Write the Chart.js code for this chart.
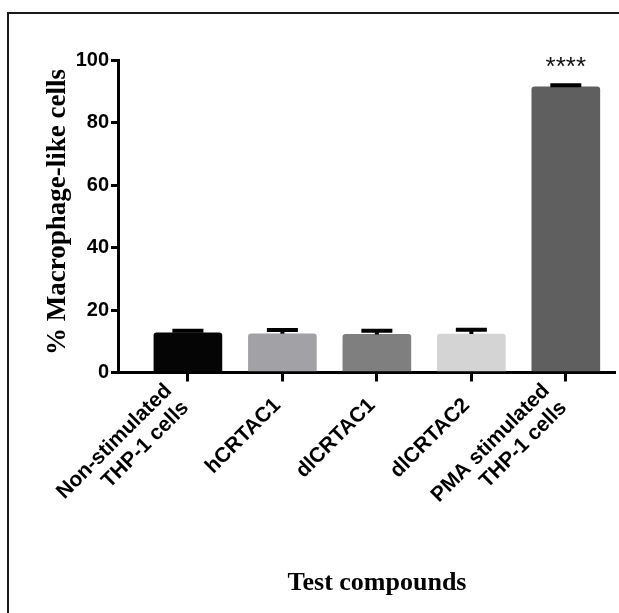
<!DOCTYPE html>
<html>
<head>
<meta charset="utf-8">
<script src="https://cdn.jsdelivr.net/npm/chart.js@4"></script>
<style>
  html, body { margin: 0; padding: 0; background: #fff; }
  #wrap { width: 619px; height: 613px; }
</style>
</head>
<body>
<div id="wrap"><canvas id="chart" width="619" height="613"></canvas></div>
<script>
// data
const categories = [
  ["Non-stimulated", "THP-1 cells"],
  "hCRTAC1",
  "dlCRTAC1",
  "dlCRTAC2",
  ["PMA stimulated", "THP-1 cells"]
];
const means = [12.7, 12.4, 12.2, 12.3, 91.4];
const errUp = [0.7, 1.2, 1.2, 1.4, 0.5];
const barColors = ["#050505", "#a2a1a6", "#7f7f7f", "#d4d4d4", "#5f5f5f"];
const yTicks = [0, 20, 40, 60, 80, 100];
const stars = ["", "", "", "", "****"];

const SANS = "Arial, 'Liberation Sans', sans-serif";
const SERIF = "'Times New Roman', 'Liberation Serif', serif";

// frame, axis titles, error bars and significance marks
const extras = {
  id: "extras",
  beforeDraw(chart) {
    // two-line labels: centre the block a bit more on the tick
    chart.scales.x.getLabelItems().forEach(item => {
      if (Array.isArray(item.label)) {
        item.textOffset = -0.35 * (item.label.length - 1) * item.font.lineHeight;
      }
    });
  },
  afterDatasetsDraw(chart) {
    const { ctx, scales: { x, y } } = chart;
    ctx.save();
    ctx.strokeStyle = "#000";
    ctx.lineWidth = 4;
    means.forEach((m, i) => {
      const px = x.getPixelForValue(i);
      const top = y.getPixelForValue(m + errUp[i]);
      const base = y.getPixelForValue(m);
      ctx.beginPath();
      ctx.moveTo(px, base);
      ctx.lineTo(px, top);
      ctx.moveTo(px - 15.5, top);
      ctx.lineTo(px + 15.5, top);
      ctx.stroke();
    });
    ctx.fillStyle = "#111";
    ctx.font = "26px " + SANS;
    ctx.textAlign = "center";
    ctx.textBaseline = "alphabetic";
    stars.forEach((s, i) => {
      if (s) ctx.fillText(s, x.getPixelForValue(i), 75);
    });
    ctx.restore();
  },
  afterDraw(chart) {
    const { ctx } = chart;
    ctx.save();
    ctx.strokeStyle = "#1a1a1a";
    ctx.lineWidth = 2;
    ctx.beginPath();
    ctx.moveTo(619, 13);
    ctx.lineTo(8, 13);
    ctx.lineTo(8, 613);
    ctx.stroke();

    ctx.fillStyle = "#000";
    ctx.font = "bold 26px " + SERIF;
    ctx.textAlign = "center";
    ctx.textBaseline = "middle";
    ctx.fillText("Test compounds", 377, 583);
    ctx.font = "bold 27px " + SERIF;
    ctx.translate(58, 212);
    ctx.rotate(-Math.PI / 2);
    ctx.fillText("% Macrophage-like cells", 0, 0);
    ctx.restore();
  }
};

new Chart(document.getElementById("chart"), {
  type: "bar",
  data: {
    datasets: [{
      data: means.map((m, i) => ({ x: i, y: m })),
      backgroundColor: barColors,
      borderWidth: 0,
      borderRadius: 3,
      barThickness: 68
    }]
  },
  options: {
    responsive: false,
    animation: false,
    layout: { padding: { top: 60, right: 5, left: 0, bottom: 0 } },
    plugins: {
      legend: { display: false },
      tooltip: { enabled: false }
    },
    scales: {
      x: {
        type: "linear",
        offset: false,
        min: -0.74,
        max: 4.51,
        afterBuildTicks: s => { s.ticks = categories.map((c, i) => ({ value: i })); },
        afterFit: s => { s.height = 240.5; },
        border: { display: true, color: "#000", width: 3 },
        grid: { offset: false, drawOnChartArea: false, drawTicks: true, tickLength: 9, tickWidth: 3, tickColor: "#000", lineWidth: 3, color: "#000" },
        ticks: {
          autoSkip: false,
          minRotation: 45,
          maxRotation: 45,
          padding: 12,
          labelOffset: -5,
          color: "#000",
          font: { family: SANS, size: 21, weight: "bold", lineHeight: 1.15 },
          callback: v => categories[v]
        }
      },
      y: {
        min: 0,
        max: 100,
        afterBuildTicks: s => { s.ticks = yTicks.map(v => ({ value: v })); },
        afterFit: s => { s.width = 118; },
        border: { display: true, color: "#000", width: 3 },
        grid: { drawOnChartArea: false, drawTicks: true, tickLength: 7, tickWidth: 3, tickColor: "#000", lineWidth: 3, color: "#000" },
        ticks: {
          padding: 2,
          color: "#000",
          font: { family: SANS, size: 20, weight: "bold" }
        }
      }
    }
  },
  plugins: [extras]
});
</script>
</body>
</html>
